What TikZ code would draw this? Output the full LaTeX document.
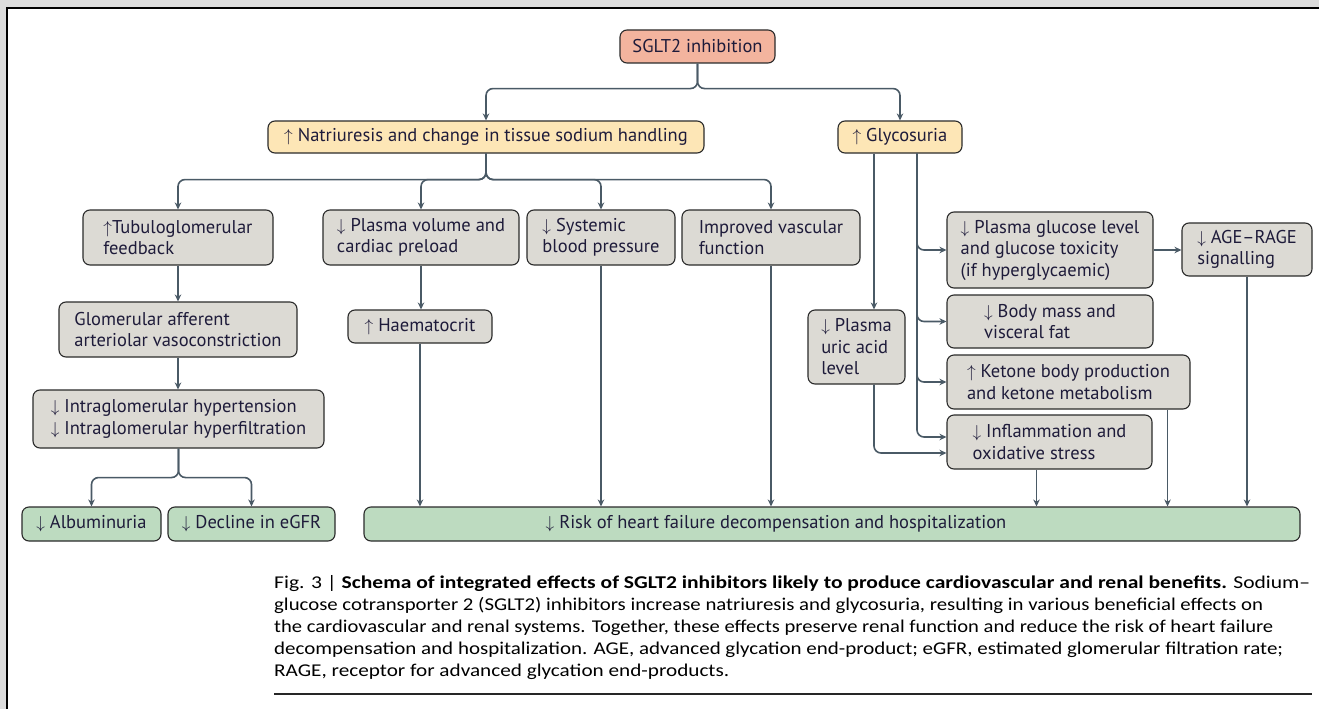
\documentclass[tikz,border=0pt]{standalone}
\usepackage{fontspec}
\usepackage{graphicx}
\setmainfont{PT Sans}
\newfontfamily\capfont[Ligatures=TeX]{Carlito}
\usetikzlibrary{arrows.meta,calc}
\definecolor{bgout}{HTML}{DCDCDC}
\definecolor{gfill}{HTML}{DCDAD4}
\definecolor{yfill}{HTML}{FDE6B6}
\definecolor{sfill}{HTML}{F3B49E}
\definecolor{grfill}{HTML}{BDDBC0}
\definecolor{edgec}{HTML}{2B2B2B}
\definecolor{connc}{HTML}{4A5A66}
\definecolor{txtc}{HTML}{1E1B3A}
\newcommand\UA{$\uparrow$}
\newcommand\DA{$\downarrow$}
% #1 style, #2 name, #3 x1, #4 y1, #5 x2, #6 y2, #7 text
\newcommand\bx[7]{%
  \pgfmathsetmacro\bw{#5-#3}\pgfmathsetmacro\bh{#6-#4}%
  \node[#1, minimum width=\bw pt, minimum height=\bh pt] (#2) at ({(#3+#5)/2},{(#4+#6)/2}) {#7};}
\tikzset{
  box/.style={draw=edgec, line width=1.1pt, rounded corners=7pt, inner xsep=8pt, inner ysep=0pt,
    font=\fontsize{18.5}{21.5}\selectfont, text=txtc, align=left},
  gbox/.style={box, fill=gfill},
  ybox/.style={box, fill=yfill, align=center},
  sbox/.style={box, fill=sfill, align=center},
  grbox/.style={box, fill=grfill},
  link/.style={draw=connc, line width=1.6pt, rounded corners=7pt, -{Stealth[length=7pt,width=6.5pt]}},
  capline/.style={anchor=base west, inner sep=0pt, font=\capfont\fontsize{18}{22}\selectfont, text=black},
}
\begin{document}
\begin{tikzpicture}[x=1pt,y=-1pt]
\useasboundingbox (0,0) rectangle (1319,709);
\fill[bgout] (0,0) rectangle (1319,709);
\fill[white] (8,9) rectangle (1319,709);
\draw[line width=2pt, black] (7,709) -- (7,8) -- (1319,8);

\bx{sbox}{sglt}{620}{30}{775}{63}{SGLT2 inhibition}
\bx{ybox}{natr}{268}{121}{704}{153}{\UA\ Natriuresis and change in tissue sodium handling}
\bx{ybox}{glyc}{838}{121}{962}{153}{\UA\ Glycosuria}

\bx{gbox}{tub}{83}{210}{273}{265}{\UA Tubuloglomerular\\feedback}
\bx{gbox}{pv}{323}{210}{519}{265}{\DA\ Plasma volume and\\cardiac preload}
\bx{gbox}{sys}{527}{210}{675}{265}{\DA\ Systemic\\blood pressure}
\bx{gbox}{imp}{682}{210}{860}{265}{Improved vascular\\function}

\bx{gbox}{glom}{59}{302}{297}{357}{Glomerular afferent\\arteriolar vasoconstriction}
\bx{gbox}{intra}{33}{390}{324}{448}{\DA\ Intraglomerular hypertension\\\DA\ Intraglomerular hyperfiltration}
\bx{gbox}{hae}{348}{310}{492}{343}{\UA\ Haematocrit}

\bx{grbox}{alb}{22}{507}{161}{541}{\DA\ Albuminuria}
\bx{grbox}{dec}{168}{507}{335}{541}{\DA\ Decline in eGFR}
\bx{grbox}{risk}{364}{507}{1300}{541}{\DA\ Risk of heart failure decompensation and hospitalization\hspace*{112pt}}

\bx{gbox}{uric}{808}{310}{905}{384}{\DA\ Plasma\\uric acid\\level}
\bx{gbox}{glu}{947}{212}{1153}{288}{\DA\ Plasma glucose level\\and glucose toxicity\\(if hyperglycaemic)}
\bx{gbox}{age}{1182}{223}{1312}{276}{\DA\ AGE–RAGE\\signalling}
\bx{gbox}{body}{947}{295}{1153}{348}{\DA\ Body mass and\\visceral fat}
\bx{gbox}{ket}{947}{355}{1190}{409}{\UA\ Ketone body production\\and ketone metabolism}
\bx{gbox}{infl}{947}{415}{1152}{469}{\DA\ Inflammation and\\oxidative stress}

% connectors
\draw[link] (sglt.south) -- ++(0,25) -| (natr.north);
\draw[link] (sglt.south) -- ++(0,25) -| (glyc.north);
\draw[link] (natr.south) -- ++(0,26) -| (tub.north);
\draw[link] (natr.south) -- ++(0,26) -| (pv.north);
\draw[link] (natr.south) -- ++(0,26) -| (sys.north);
\draw[link] (natr.south) -- ++(0,26) -| (imp.north);
\draw[link] (tub.south) -- (tub.south |- glom.north);
\draw[link] (glom.south) -- (glom.south |- intra.north);
\draw[link] (intra.south) -- ++(0,29) -| (alb.north);
\draw[link] (intra.south) -- ++(0,29) -| (dec.north);
\draw[link] (pv.south) -- (pv.south |- hae.north);
\draw[link] (hae.south) -- (hae.south |- risk.north);
\draw[link] (sys.south) -- (sys.south |- risk.north);
\draw[link] (imp.south) -- (imp.south |- risk.north);

\coordinate (g1) at ($(glyc.south)+(-26,0)$);
\coordinate (g2) at ($(glyc.south)+(17,0)$);
\draw[link] (g1) -- (g1 |- uric.north);
\draw[link] (g2) |- (glu.west);
\draw[link] (g2) |- (body.west);
\draw[link] (g2) |- (ket.west);
\draw[link] (g2) |- ($(infl.west)+(0,-5)$);
\draw[link] (uric.south -| g1) |- ($(infl.west)+(0,11)$);
\draw[link] (glu.east) -- (glu.east -| age.west);

\coordinate (i1) at ($(infl.south)+(-13,0)$);
\coordinate (k1) at ($(ket.south east)+(-23,0)$);
\draw[link] (i1) -- (i1 |- risk.north);
\draw[link] (k1) -- (k1 |- risk.north);
\draw[link] (age.south) -- (age.south |- risk.north);

% caption
\node[capline] (c1) at (274,588) {\resizebox{1036pt}{\height}{Fig. 3 | \textbf{Schema of integrated effects of SGLT2 inhibitors likely to produce cardiovascular and renal benefits.} Sodium–}};
\node[capline] (c2) at (274,610) {\resizebox{989pt}{\height}{glucose cotransporter 2 (SGLT2) inhibitors increase natriuresis and glycosuria, resulting in various beneficial effects on}};
\node[capline] (c3) at (274,632) {\resizebox{999pt}{\height}{the cardiovascular and renal systems. Together, these effects preserve renal function and reduce the risk of heart failure}};
\node[capline] (c4) at (274,654) {\resizebox{1009pt}{\height}{decompensation and hospitalization. AGE, advanced glycation end-product; eGFR, estimated glomerular filtration rate;}};
\node[capline] (c5) at (274,676) {\resizebox{455pt}{\height}{RAGE, receptor for advanced glycation end-products.}};
\draw[line width=1.8pt, black!85] (274,694) -- (1312,694);
\end{tikzpicture}
\end{document}
